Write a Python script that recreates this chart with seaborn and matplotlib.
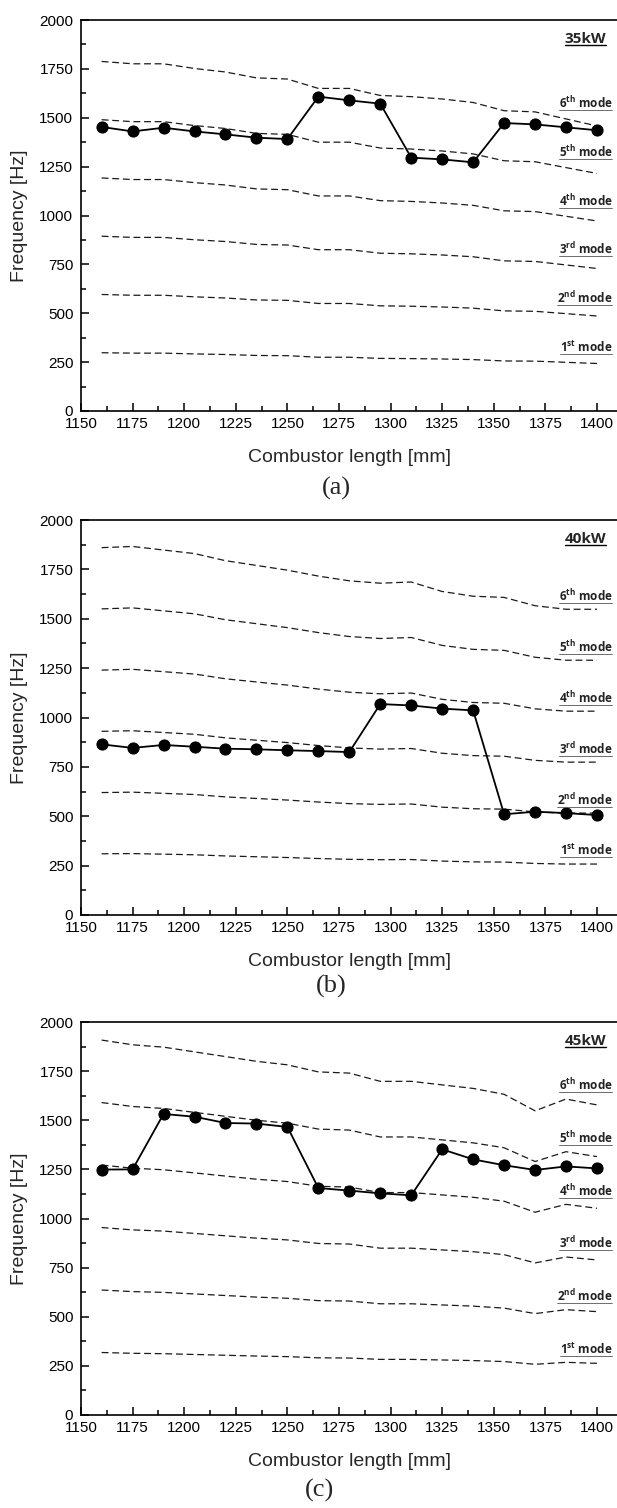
import matplotlib
matplotlib.use('Agg')
import matplotlib.pyplot as plt
import seaborn as sns
from matplotlib.ticker import MultipleLocator
from matplotlib.lines import Line2D

# combustor lengths [mm]
length_mm = [1160, 1175, 1190, 1205, 1220, 1235, 1250, 1265, 1280,
             1295, 1310, 1325, 1340, 1355, 1370, 1385, 1400]

# measured frequency [Hz]
freq_35kw = [1453, 1430, 1449, 1430, 1415, 1398, 1391, 1608, 1589,
             1572, 1296, 1287, 1272, 1473, 1466, 1451, 1436]
freq_40kw = [864, 846, 861, 852, 842, 839, 834, 830, 825,
             1068, 1061, 1045, 1036, 510, 523, 516, 506]
freq_45kw = [1249, 1250, 1532, 1518, 1486, 1483, 1466, 1155, 1142,
             1128, 1118, 1352, 1301, 1271, 1247, 1265, 1255]

# predicted acoustic modes (1st .. 6th) [Hz]
modes_35kw = [
    [298, 296, 296, 292, 289, 284, 283, 275, 275, 269, 268, 266, 263, 256, 255, 249, 243],
    [596, 592, 592, 584, 578, 568, 566, 550, 550, 538, 536, 532, 526, 512, 510, 498, 486],
    [894, 888, 888, 876, 867, 852, 849, 825, 825, 807, 804, 798, 789, 768, 765, 747, 729],
    [1192, 1184, 1184, 1168, 1156, 1136, 1132, 1100, 1100, 1076, 1072, 1064, 1052, 1024, 1020, 996, 972],
    [1490, 1480, 1480, 1460, 1445, 1420, 1415, 1375, 1375, 1345, 1340, 1330, 1315, 1280, 1275, 1245, 1215],
    [1788, 1776, 1776, 1752, 1734, 1704, 1698, 1650, 1650, 1614, 1608, 1596, 1578, 1536, 1530, 1494, 1458],
]
modes_40kw = [
    [310, 311, 308, 305, 299, 295, 291, 286, 282, 280, 281, 273, 269, 268, 261, 258, 258],
    [620, 622, 616, 610, 598, 590, 582, 572, 564, 560, 562, 546, 538, 536, 522, 516, 516],
    [930, 933, 924, 915, 897, 885, 873, 858, 846, 840, 843, 819, 807, 804, 783, 774, 774],
    [1240, 1244, 1232, 1220, 1196, 1180, 1164, 1144, 1128, 1120, 1124, 1092, 1076, 1072, 1044, 1032, 1032],
    [1550, 1555, 1540, 1525, 1495, 1475, 1455, 1430, 1410, 1400, 1405, 1365, 1345, 1340, 1305, 1290, 1290],
    [1860, 1866, 1848, 1830, 1794, 1770, 1746, 1716, 1692, 1680, 1686, 1638, 1614, 1608, 1566, 1548, 1548],
]
modes_45kw = [
    [318, 314, 312, 308, 304, 300, 297, 291, 290, 283, 283, 280, 277, 272, 258, 268, 263],
    [636, 628, 624, 616, 608, 600, 594, 582, 580, 566, 566, 560, 554, 544, 516, 536, 526],
    [954, 942, 936, 924, 912, 900, 891, 873, 870, 849, 849, 840, 831, 816, 774, 804, 789],
    [1272, 1256, 1248, 1232, 1216, 1200, 1188, 1164, 1160, 1132, 1132, 1120, 1108, 1088, 1032, 1072, 1052],
    [1590, 1570, 1560, 1540, 1520, 1500, 1485, 1455, 1450, 1415, 1415, 1400, 1385, 1360, 1290, 1340, 1315],
    [1908, 1884, 1872, 1848, 1824, 1800, 1782, 1746, 1740, 1698, 1698, 1680, 1662, 1632, 1548, 1608, 1578],
]

mode_labels = [r'1$^{\mathbf{st}}$ mode', r'2$^{\mathbf{nd}}$ mode', r'3$^{\mathbf{rd}}$ mode',
               r'4$^{\mathbf{th}}$ mode', r'5$^{\mathbf{th}}$ mode', r'6$^{\mathbf{th}}$ mode']
power_labels = ['35kW', '40kW', '45kW']
panel_tags = ['(a)', '(b)', '(c)']

sns.set_style('ticks')
plt.rcParams['font.family'] = ['Liberation Sans', 'DejaVu Sans']
plt.rcParams['mathtext.fontset'] = 'custom'
plt.rcParams['mathtext.rm'] = 'Open Sans'
plt.rcParams['mathtext.bf'] = 'Open Sans:bold'

W, H = 617, 1508
AX_LEFT = 81
fig = plt.figure(figsize=(W / 100, H / 100), dpi=100)

# (bottom px, height px, tag centre x px, tag centre y px, mode label lift pt)
boxes = [(411, 391, 336, 488, 5.5), (915, 395, 331, 986, 4), (1415, 393, 320, 1490, 4)]
freqs = [freq_35kw, freq_40kw, freq_45kw]
modes = [modes_35kw, modes_40kw, modes_45kw]

underlined = []
for i in range(3):
    bottom, h, tx, ty, lift = boxes[i]
    ax = fig.add_axes([AX_LEFT / W, 1 - bottom / H, (W - AX_LEFT) / W, h / H])

    for vals in modes[i]:
        sns.lineplot(x=length_mm, y=vals, ax=ax, color='#1a1a1a', lw=0.9,
                     linestyle=(0, (5.5, 3)))
    sns.lineplot(x=length_mm, y=freqs[i], ax=ax, color='black', lw=1.3,
                 marker='o', markersize=8, markeredgecolor='black',
                 markerfacecolor='black')

    ax.set_xlim(1150, 1409.7)
    ax.set_ylim(0, 2000)
    ax.xaxis.set_major_locator(MultipleLocator(25))
    ax.xaxis.set_minor_locator(MultipleLocator(12.5))
    ax.yaxis.set_major_locator(MultipleLocator(250))
    ax.yaxis.set_minor_locator(MultipleLocator(125))
    ax.tick_params(which='both', direction='in', width=1.1, top=False, right=False,
                   labelsize=11, colors='black')
    ax.tick_params(which='major', length=5.5)
    ax.tick_params(which='minor', length=3.5)
    ax.tick_params(axis='x', pad=4)
    ax.tick_params(axis='y', pad=5.5)
    for s in ['left', 'bottom', 'top']:
        ax.spines[s].set_linewidth(1.2)
        ax.spines[s].set_color('black')
    ax.spines['right'].set_visible(False)

    ax.set_xlabel('Combustor length [mm]', fontsize=14, va='center')
    ax.xaxis.set_label_coords(0.5, -47 / h)
    ax.set_ylabel('Frequency [Hz]', fontsize=14, labelpad=8)

    for k, vals in enumerate(modes[i]):
        t = ax.annotate(mode_labels[k], xy=(1407.5, vals[-2]), xytext=(0, lift),
                        textcoords='offset points', ha='right', va='bottom',
                        fontsize=8.5, fontweight='bold', family='Open Sans',
                        color='#222222')
        underlined.append((t, 0.6, '#555555'))
    t = ax.text(1404.5, 1905, power_labels[i], ha='right', va='center',
                fontsize=11, fontweight='bold', family='Open Sans')
    underlined.append((t, 1.0, 'black'))

    fig.text(tx / W, 1 - ty / H, panel_tags[i], ha='center', va='center',
             fontsize=19, family='Liberation Serif')

# underline the annotation texts
fig.canvas.draw()
renderer = fig.canvas.get_renderer()
inv = fig.transFigure.inverted()
for t, lw, col in underlined:
    bb = t.get_window_extent(renderer)
    (x0, y0), (x1, _) = inv.transform([(bb.x0, bb.y0 + 1), (bb.x1, bb.y0 + 1)])
    fig.add_artist(Line2D([x0, x1], [y0, y0], transform=fig.transFigure,
                          lw=lw, color=col))

fig.savefig('out.png', dpi=100)
